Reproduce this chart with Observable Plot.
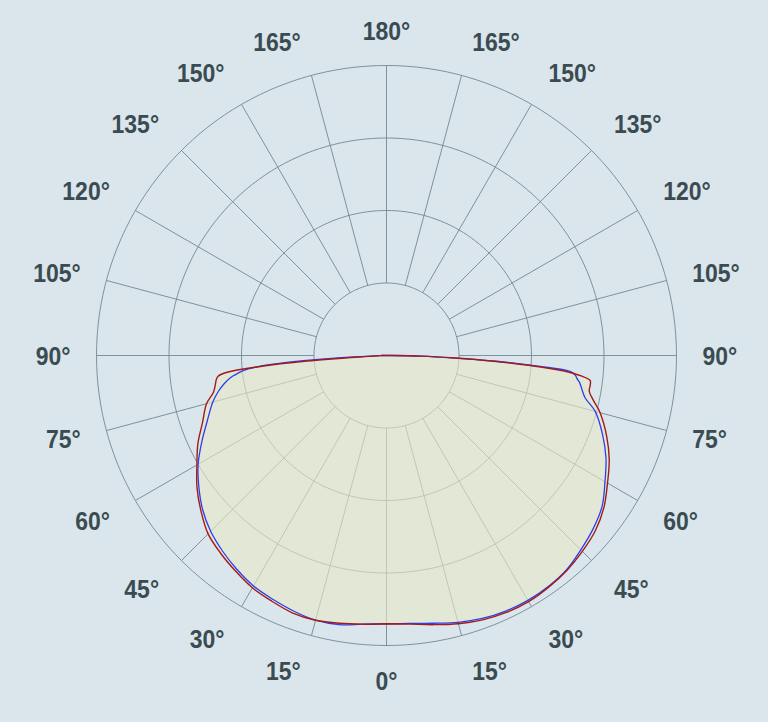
<!DOCTYPE html>
<html>
<head>
<meta charset="utf-8">
<script src="https://cdn.jsdelivr.net/npm/d3@7"></script>
<script src="https://cdn.jsdelivr.net/npm/@observablehq/plot@0.6"></script>
<style>
  html, body { margin: 0; padding: 0; background: #dbe5ec; }
  #chart svg { display: block; }
</style>
</head>
<body>
<div id="chart"></div>
<script>
// Luminous intensity distribution (cd/klm), gamma measured from nadir (0°) to zenith (180°).
const gammaAngles = [0, 5, 10, 15, 20, 25, 30, 35, 40, 45, 50, 55, 60, 65, 70, 75, 78, 80, 82, 83, 84, 85, 86, 87, 88, 89, 90];

// Red plane: left half (C180) and right half (C0)
const redLeft  = [370, 372, 375, 378, 378, 374, 370, 363, 356, 348, 334, 319, 302, 287, 270, 257, 244, 240, 237, 234, 221, 177, 110, 30, 11, 8, 6];
const redRight = [370, 372, 377, 383, 388, 391, 392, 390, 387, 382, 376, 366, 352, 339, 323, 305, 291, 284, 284, 283, 270, 246, 199, 145, 90, 48, 7];

// Blue plane: left half (C270) and right half (C90)
const blueLeft  = [370, 372, 377, 378, 375, 371, 367, 360, 352, 343, 331, 316, 300, 281, 263, 248, 237, 228, 217, 208, 199, 179, 138, 76, 21, 10, 6];
const blueRight = [370, 371, 375, 381, 386, 389, 390, 389, 386, 379, 372, 363, 348, 334, 317, 298, 280, 274, 269, 265, 262, 255, 207, 152, 91, 48, 7];

// Grid: intensity rings and angle ticks
const ringValues = [100, 200, 300, 400];
const tickAngles = [0, 15, 30, 45, 60, 75, 90, 105, 120, 135, 150, 165, 180];

// Layout
const W = 768, H = 722;
const cx = 386, cy = 355;          // pole position in pixels
const k = 72.5 / 100;              // pixels per cd/klm
const labelRadius = 316;           // pixels
const labelFont = "'Liberation Sans', Arial, sans-serif";
const labelSize = 25.5;
const labelSqueeze = 0.9;          // condensed look for the angle labels

const rad = d => d * Math.PI / 180;
// side: -1 = left half, +1 = right half; y is up in data space
const polar = (g, v, side) => ({x: side * v * Math.sin(rad(g)), y: -v * Math.cos(rad(g))});

// Outline: left half from 90° down to nadir, then right half back up to 90°
function outline(left, right) {
  const pts = [];
  for (let i = gammaAngles.length - 1; i >= 0; i--) pts.push(polar(gammaAngles[i], left[i], -1));
  for (let i = 0; i < gammaAngles.length; i++) pts.push(polar(gammaAngles[i], right[i], 1));
  return pts;
}
const closed = pts => [...pts, pts[0]];

const redPath = closed(outline(redLeft, redRight));
const bluePath = closed(outline(blueLeft, blueRight));
const fillPath = outline(
  redLeft.map((v, i) => Math.max(v, blueLeft[i])),
  redRight.map((v, i) => Math.max(v, blueRight[i]))
);

// Rings as full circles
const rings = ringValues.flatMap(r =>
  d3.range(0, 361, 2).map(a => ({ring: r, x: r * Math.sin(rad(a)), y: -r * Math.cos(rad(a))}))
);

// Spokes every 15°, from the first ring to the outer ring
const rMin = d3.min(ringValues), rMax = d3.max(ringValues);
const spokes = d3.range(0, 360, 15).map(a => ({
  x1: rMin * Math.sin(rad(a)), y1: -rMin * Math.cos(rad(a)),
  x2: rMax * Math.sin(rad(a)), y2: -rMax * Math.cos(rad(a))
}));

// Angle labels placed just outside the outer ring
const ctx = document.createElement("canvas").getContext("2d");
ctx.font = `bold ${labelSize}px ${labelFont}`;
const clamp = (v, a, b) => Math.max(a, Math.min(b, v));
const labels = tickAngles.flatMap(a => {
  const sides = (a === 0 || a === 180) ? [1] : [-1, 1];
  return sides.map(side => {
    const text = `${a}°`;
    const width = ctx.measureText(text).width * labelSqueeze;
    const hw = width / 2;
    const hh = labelSize * 0.36;
    const s = Math.sin(rad(a)), c = Math.cos(rad(a));
    const wx = clamp(Math.abs(s) / 0.25, 0, 1);
    const wy = clamp((Math.abs(c) - 0.2) / 0.4, 0, 1);
    const px = side * (labelRadius * s + hw * wx + 4 * wx * wy);
    const py = labelRadius * c + Math.sign(c) * hh * wy; // pixels, downward
    return {text, width, x: px / k, y: -py / k};
  });
});

const chart = Plot.plot({
  width: W,
  height: H,
  margin: 0,
  x: {domain: [-cx / k, (W - cx) / k], axis: null},
  y: {domain: [-(H - cy) / k, cy / k], axis: null},
  style: {background: "#dbe5ec", overflow: "visible"},
  marks: [
    Plot.line(rings, {x: "x", y: "y", z: "ring", stroke: "#718a93", strokeWidth: 0.9}),
    Plot.link(spokes, {x1: "x1", y1: "y1", x2: "x2", y2: "y2", stroke: "#718a93", strokeWidth: 0.9}),
    Plot.line(fillPath, {x: "x", y: "y", curve: "catmull-rom", fill: "#e8e9c8", fillOpacity: 0.62, stroke: "none"}),
    Plot.line(bluePath, {x: "x", y: "y", curve: "catmull-rom", stroke: "#2b3ff0", strokeWidth: 1.3}),
    Plot.line(redPath, {x: "x", y: "y", curve: "catmull-rom", stroke: "#a01c1c", strokeWidth: 1.4}),
    Plot.text(labels, {
      x: "x", y: "y", text: "text", dy: 1.5,
      fontSize: labelSize, fontWeight: "bold", fontFamily: labelFont,
      fill: "#3a4c51", textAnchor: "middle", lineAnchor: "middle",
      className: "angle-label"
    })
  ]
});

// Squeeze label glyphs horizontally to a condensed width
chart.querySelectorAll(".angle-label text").forEach((node, i) => {
  const d = labels[i];
  if (!d) return;
  node.setAttribute("textLength", d.width.toFixed(1));
  node.setAttribute("lengthAdjust", "spacingAndGlyphs");
});

document.getElementById("chart").append(chart);
</script>
</body>
</html>
